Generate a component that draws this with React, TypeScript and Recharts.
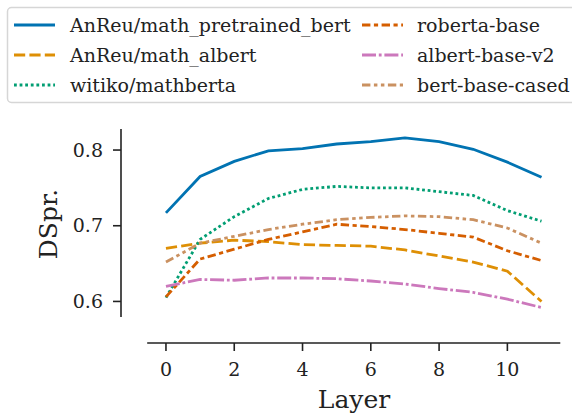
import React from 'react';
import { LineChart, Line, XAxis, YAxis, Legend, ReferenceLine, Label } from 'recharts';

const layers = [0, 1, 2, 3, 4, 5, 6, 7, 8, 9, 10, 11];
const mathPretrainedBert = [0.717, 0.765, 0.785, 0.799, 0.802, 0.808, 0.811, 0.816, 0.811, 0.801, 0.784, 0.764];
const mathAlbert = [0.670, 0.677, 0.681, 0.679, 0.675, 0.674, 0.673, 0.668, 0.660, 0.652, 0.640, 0.600];
const mathberta = [0.605, 0.682, 0.712, 0.736, 0.748, 0.752, 0.750, 0.750, 0.745, 0.740, 0.720, 0.706];
const robertaBase = [0.606, 0.656, 0.669, 0.682, 0.692, 0.702, 0.699, 0.695, 0.690, 0.685, 0.667, 0.654];
const albertBaseV2 = [0.620, 0.629, 0.628, 0.631, 0.631, 0.630, 0.627, 0.623, 0.617, 0.612, 0.603, 0.592];
const bertBaseCased = [0.652, 0.677, 0.686, 0.695, 0.702, 0.708, 0.711, 0.713, 0.712, 0.708, 0.697, 0.677];

const seriesNames = [
  'AnReu/math_pretrained_bert',
  'AnReu/math_albert',
  'witiko/mathberta',
  'roberta-base',
  'albert-base-v2',
  'bert-base-cased',
];
const seriesValues = [mathPretrainedBert, mathAlbert, mathberta, robertaBase, albertBaseV2, bertBaseCased];
const seriesColors = ['#0173b2', '#de8f05', '#029e73', '#d55e00', '#cc78bc', '#ca9161'];
const baseDashes: number[][] = [[], [4, 1.5], [1, 1], [3, 1.25, 1.5, 1.25], [5, 1, 1, 1], [3, 1.25, 1.25, 1.25, 1.25, 1.25]];

const xTicks = [0, 2, 4, 6, 8, 10];
const yTicks = [0.6, 0.7, 0.8];
const xLabel = 'Layer';
const yLabel = 'DSpr.';

const FONT = 'DejaVu Serif';
const fontStyle = { fontFamily: "'DejaVu Serif', 'Liberation Serif', serif" };
const INK = '#222222';
const LW = 2.8;
const dashOf = (k: number) => (baseDashes[k].length ? baseDashes[k].map((d) => d * LW).join(' ') : undefined);

const data = layers.map((layer, i) => {
  const row: Record<string, number> = { layer };
  seriesValues.forEach((vals, k) => {
    row['s' + k] = vals[i];
  });
  return row;
});

const X_DOMAIN: [number, number] = [-1.317, 11.6];
const Y_DOMAIN: [number, number] = [0.5451, 0.8278];

const renderLegend = () => (
  <svg width={572} height={110} style={{ display: 'block', ...fontStyle }}>
    <rect x={7.5} y={7.5} width={600} height={95} rx={4} fill="#ffffff" stroke="#d6d6d6" strokeWidth={1.5} />
    {seriesNames.map((name, k) => {
      const col = Math.floor(k / 3);
      const row = k % 3;
      const x0 = col ? 362 : 14;
      const tx = col ? 417 : 70;
      const y = 25 + 30 * row;
      return (
        <g key={name}>
          <line x1={x0} x2={x0 + 41} y1={y} y2={y} stroke={seriesColors[k]} strokeWidth={LW} strokeDasharray={dashOf(k)} />
          <text x={tx} y={y + 6.7} fontSize={19} fontFamily={FONT} style={fontStyle} fill={INK}>
            {name}
          </text>
        </g>
      );
    })}
  </svg>
);

const XTitle = (props: any) => {
  const vb = props.viewBox || { x: 0, y: 0, width: 0, height: 0 };
  return (
    <text x={vb.x + vb.width / 2 + 12.5} y={vb.y + 65} textAnchor="middle" fontSize={25} fontFamily={FONT} style={fontStyle} fill={INK}>
      {xLabel}
    </text>
  );
};

const YTitle = (props: any) => {
  const vb = props.viewBox || { x: 0, y: 0, width: 0, height: 0 };
  const x = vb.x + 57;
  const y = vb.y + 95;
  return (
    <text x={x} y={y} transform={`rotate(-90, ${x}, ${y})`} textAnchor="middle" fontSize={25} fontFamily={FONT} style={fontStyle} fill={INK}>
      {yLabel}
    </text>
  );
};

const tickStyle = { fontSize: 19, fill: INK, fontFamily: FONT, style: fontStyle };

export default function App() {
  return (
    <div style={{ position: 'absolute', left: 0, top: 0, width: 572, height: 414, overflow: 'hidden', background: '#fff', ...fontStyle }}>
      <LineChart width={572} height={414} data={data} margin={{ top: 129, right: 10, bottom: 0, left: 0 }} style={fontStyle}>
        <XAxis
          type="number"
          dataKey="layer"
          domain={X_DOMAIN}
          allowDataOverflow
          ticks={xTicks}
          interval={0}
          axisLine={false}
          tickLine={{ stroke: INK, strokeWidth: 1.6 }}
          tickSize={8}
          tickMargin={12}
          tick={tickStyle}
          height={71}
        >
          <Label content={<XTitle />} />
        </XAxis>
        <YAxis
          type="number"
          domain={Y_DOMAIN}
          allowDataOverflow
          ticks={yTicks}
          interval={0}
          axisLine={false}
          tickLine={{ stroke: INK, strokeWidth: 1.6 }}
          tickSize={8}
          tickMargin={10}
          tick={tickStyle}
          tickFormatter={(v: number) => v.toFixed(1)}
          width={121}
        >
          <Label content={<YTitle />} />
        </YAxis>
        <ReferenceLine
          segment={[{ x: X_DOMAIN[0], y: 0.5795 }, { x: X_DOMAIN[0], y: Y_DOMAIN[1] }]}
          stroke={INK}
          strokeWidth={1.6}
          ifOverflow="visible"
        />
        <ReferenceLine
          segment={[{ x: -0.55, y: Y_DOMAIN[0] }, { x: 11.55, y: Y_DOMAIN[0] }]}
          stroke={INK}
          strokeWidth={1.6}
          ifOverflow="visible"
        />
        {seriesNames.map((name, k) => (
          <Line
            key={name}
            type="linear"
            dataKey={'s' + k}
            name={name}
            stroke={seriesColors[k]}
            strokeWidth={LW}
            strokeDasharray={dashOf(k)}
            dot={false}
            activeDot={false}
            isAnimationActive={false}
          />
        ))}
        <Legend
          content={renderLegend}
          layout="vertical"
          verticalAlign="middle"
          align="center"
          wrapperStyle={{ position: 'absolute', left: 0, top: 0, width: 572, height: 110 }}
        />
      </LineChart>
    </div>
  );
}
